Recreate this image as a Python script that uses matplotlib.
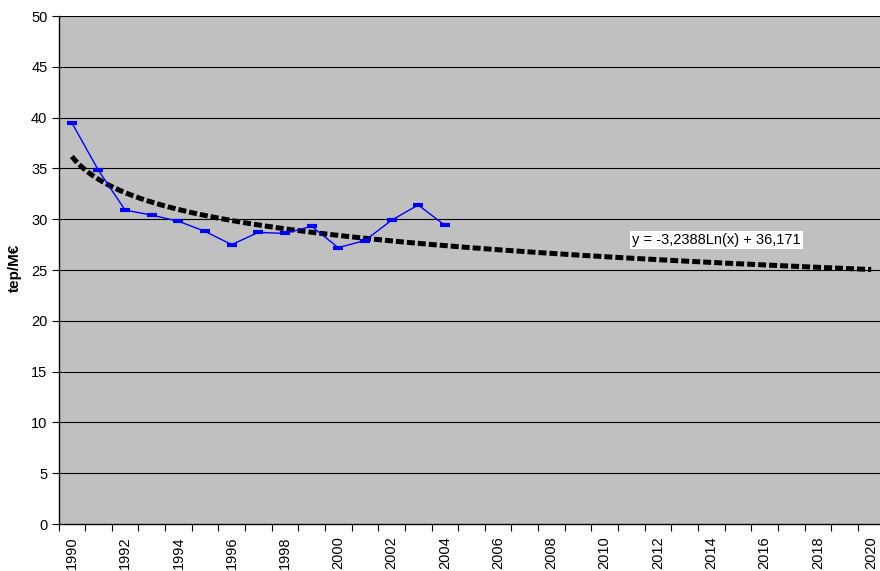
import numpy as np
import matplotlib
matplotlib.use("Agg")
import matplotlib.pyplot as plt

plt.rcParams['font.family'] = ['Liberation Sans', 'DejaVu Sans']

# Category axis: 1990..2020
years = list(range(1990, 2021))
# Observed energy intensity (tep/M€), 1990-2004
obs_years = list(range(1990, 2005))
obs_values = [39.5, 34.8, 30.9, 30.4, 29.8, 28.8, 27.5, 28.7, 28.6, 29.3,
              27.2, 27.9, 29.9, 31.4, 29.4]
# Logarithmic trend y = a*ln(x) + b, x = 1..31
trend_a = -3.2388
trend_b = 36.171
trend_label = "y = -3,2388Ln(x) + 36,171"

W, H = 880, 571
fig = plt.figure(figsize=(W / 100, H / 100), dpi=100)
ax_left, ax_bottom, ax_w, ax_h = 58.5, 47, 826, 508
ax = fig.add_axes([ax_left / W, ax_bottom / H, ax_w / W, ax_h / H])
ax.set_facecolor('#C0C0C0')

n = len(years)
ax.set_xlim(-0.5, n - 0.5)
ax.set_ylim(0, 50)

# horizontal gridlines
for v in range(5, 51, 5):
    ax.axhline(v, color='black', lw=0.8, zorder=1)

# trend line
xt = np.linspace(0, n - 1, 600)
yt = trend_a * np.log(xt + 1) + trend_b
ax.plot(xt, yt, color='black', lw=3.6, dashes=(1.6, 0.6),
        solid_capstyle='butt', dash_capstyle='butt', zorder=3)

# observed series
xo = [years.index(y) for y in obs_years]
ax.plot(xo, obs_values, color='#0000FF', lw=1.0, marker='_',
        markersize=7, markeredgewidth=3, zorder=4)

ax.text(24.2, 27.95, trend_label, fontsize=10.5, ha='center', va='center',
        bbox=dict(facecolor='white', edgecolor='none', pad=1.5), zorder=5)

# axes styling
for s in ['top', 'right']:
    ax.spines[s].set_visible(False)
ax.spines['left'].set_color('black')
ax.spines['bottom'].set_color('black')
ax.spines['left'].set_linewidth(1.0)
ax.spines['bottom'].set_linewidth(1.0)

ax.set_yticks(range(0, 51, 5))
ax.tick_params(axis='y', direction='out', length=5, labelsize=10.5, pad=3)

ax.set_xticks(np.arange(-0.5, n, 1.0))
ax.set_xticklabels([])
ax.tick_params(axis='x', which='major', direction='out', length=5)
ax.set_xticks(range(0, n, 2), minor=True)
ax.set_xticklabels([str(y) for y in years[::2]], minor=True, rotation=90,
                   fontsize=10.5)
ax.tick_params(axis='x', which='minor', length=0, pad=9)

ax.set_ylabel('tep/M€', fontsize=11, fontweight='bold')
ax.yaxis.set_label_coords((22 - ax_left) / ax_w, 0.505)

fig.savefig('out.png', dpi=100)
